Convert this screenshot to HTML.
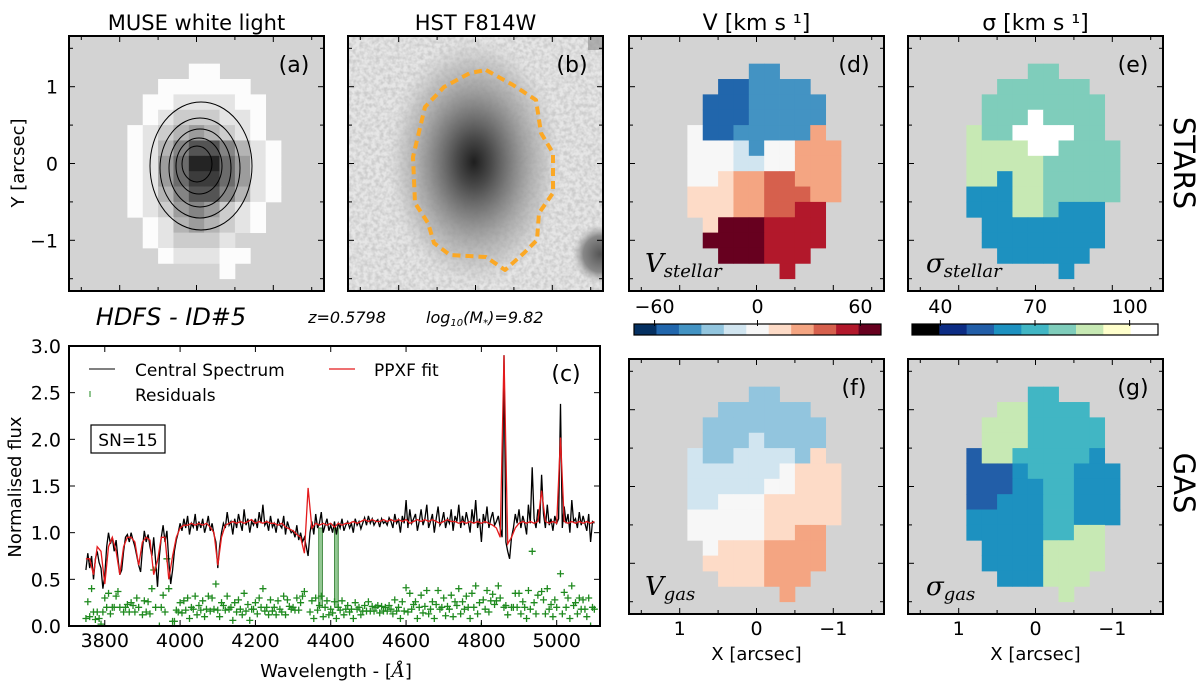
<!DOCTYPE html>
<html><head><meta charset="utf-8">
<style>
html,body{margin:0;padding:0;background:#fff;}
svg{display:block;font-family:"DejaVu Sans","Liberation Sans",sans-serif;}
</style></head>
<body>
<svg id="fig" width="1200" height="684" viewBox="0 0 1200 684" xmlns="http://www.w3.org/2000/svg">
<defs>
<filter id="noise" x="0" y="0" width="100%" height="100%">
<feTurbulence type="fractalNoise" baseFrequency="0.25" numOctaves="2" seed="3"/>
<feColorMatrix type="matrix" values="0 0 0 0 0.5  0 0 0 0 0.5  0 0 0 0 0.5  0 0 0 -2.4 1.6"/>
</filter>
<radialGradient id="blob" cx="0.5" cy="0.5" r="0.5">
<stop offset="0" stop-color="#1e1e1e"/>
<stop offset="0.2" stop-color="#4a4a4a"/>
<stop offset="0.5" stop-color="#888" stop-opacity="0.9"/>
<stop offset="0.8" stop-color="#b4b4b4" stop-opacity="0.6"/>
<stop offset="1" stop-color="#ccc" stop-opacity="0"/>
</radialGradient>
<radialGradient id="blob2" cx="0.5" cy="0.5" r="0.5">
<stop offset="0" stop-color="#555"/>
<stop offset="0.6" stop-color="#888"/>
<stop offset="1" stop-color="#bbb" stop-opacity="0"/>
</radialGradient>
<clipPath id="clipB"><rect x="348" y="36" width="255" height="255"/></clipPath>
<clipPath id="clipC"><rect x="69" y="346" width="531" height="280"/></clipPath>
</defs>
<g id="layer"></g>
</svg>
<script>
// ---------------- DATA ----------------
const museGrid = [
".....00....",
"...000000..",
"..00111100.",
"..01222110.",
".012343210.",
".0135775310",
".0146996410",
".0146886410",
".0135775310",
".012454210.",
"..01343210.",
"..012221...",
"...011100..",
".......0..."];
const vStarGrid = [
".....22....",
"...112222..",
"..11122222.",
"..11122222.",
".511222227.",
".5554255777",
".5554455777",
".5567788777",
".6667788877",
".666778899.",
"..6aaa9999.",
"..aaaa9999.",
"...aaa999..",
".......9..."];
const sStarGrid = [
".....55....",
"...555555..",
"..55555555.",
"..55585555.",
".655888855.",
".6666885555",
".6666655555",
".6636655555",
".3336655555",
".333665333.",
"..33333333.",
"..33333333.",
"...333333..",
".......3..."];
const vGasGrid = [
".....33....",
"...333333..",
"..33333333.",
"..33343333.",
".433444436.",
".4444445666",
".4444455666",
".4455566666",
".5555566666",
".555556677.",
"..56667777.",
"..66667777.",
"...666777..",
".......7..."];
const sGasGrid = [
".....44....",
"...664444..",
"..66644444.",
"..66644444.",
".266444443.",
".2223444333",
".2223344333",
".2233344333",
".3333344333",
".333334466.",
"..33336666.",
"..33336666.",
"...333666..",
".......6..."];
const vColors = ["#053061","#2166ac","#4393c3","#92c5de","#d1e5f0","#f7f7f7","#fddbc7","#f4a582","#d6604d","#b2182b","#67001f"];
const sColors = ["#000000","#0c2c84","#225ea8","#1d91c0","#41b6c4","#7fcdbb","#c7e9b4","#ffffcc","#ffffff"];
const vRange = [-72, 72];
const sRange = [31, 109];
const vTicks = [-60, 0, 60];
const sTicks = [40, 70, 100];
const mapTicks = [-1.5,-1,-0.5,0,0.5,1,1.5];
const mapLabels = [1,0,-1];

const lamStart = 3750;
const flux = [
0.60,0.78,0.62,0.75,0.50,0.72,0.80,0.68,0.62,0.40,
0.55,0.85,1.00,0.88,0.95,0.80,0.92,0.72,0.55,0.60,
0.80,0.95,0.98,0.90,1.00,0.92,0.85,0.75,0.65,0.58,
0.82,1.02,0.90,0.98,0.85,0.75,0.95,0.70,0.42,0.75,
0.95,1.08,0.90,1.02,0.70,0.45,0.60,0.80,0.92,1.00,
1.10,1.02,1.15,1.05,1.18,0.98,1.10,1.06,1.20,1.02,
1.12,1.05,1.15,1.00,1.08,1.18,1.02,1.10,0.98,0.90,
0.62,0.85,1.00,1.10,1.05,1.22,1.08,1.12,0.98,1.15,
1.05,1.20,1.10,1.02,1.25,1.08,1.15,1.00,1.12,1.08,
1.15,1.05,1.22,1.10,1.30,1.08,1.12,1.02,1.18,1.06,
1.10,1.00,1.15,1.08,1.05,1.18,0.98,1.12,1.05,1.00,
1.02,0.95,1.08,0.92,1.00,0.90,0.95,0.85,0.75,1.00,
1.12,0.98,1.20,1.05,1.10,1.22,1.00,1.08,1.15,1.02,
1.08,1.00,1.12,0.98,1.10,1.05,1.15,1.02,1.08,1.12,
1.05,1.10,1.00,1.15,1.08,1.12,1.04,1.10,1.16,1.08,
1.18,1.10,1.15,1.08,1.12,1.14,1.06,1.15,1.10,1.12,
1.08,1.16,1.12,1.05,1.20,1.10,1.14,1.00,1.18,1.10,
1.35,1.05,1.25,1.10,1.15,1.20,1.02,1.12,1.25,1.08,
1.15,1.30,1.05,1.12,1.20,1.00,1.15,1.28,1.08,1.12,
1.22,1.05,1.15,1.10,1.25,1.02,1.18,1.12,1.30,1.05,
1.18,1.08,1.22,1.12,1.00,1.25,1.10,1.35,1.05,1.15,
0.90,1.20,1.10,1.28,1.05,1.15,1.22,1.08,1.12,1.18,
1.05,0.95,2.90,0.90,0.80,0.72,0.95,1.05,1.20,1.10,
1.25,1.05,1.18,1.10,0.98,1.30,1.10,1.70,1.15,1.05,
1.25,1.10,1.62,1.20,1.05,1.30,1.08,1.15,1.02,1.18,
1.10,1.15,2.38,1.05,1.28,1.10,1.20,1.00,1.35,1.12,
1.15,1.05,1.22,1.08,1.18,1.10,1.02,1.20,0.90,1.12,
1.10];
const fit = [
0.72,0.72,0.55,0.85,0.80,0.45,0.85,0.95,0.80,0.55,
0.85,0.95,0.95,0.90,0.65,0.90,0.95,0.92,0.55,0.70,
0.95,0.95,0.50,0.75,0.95,1.05,1.08,1.08,1.10,1.08,
1.10,1.08,1.10,1.06,1.00,0.65,0.95,1.08,1.10,1.12,
1.10,1.12,1.10,1.12,1.14,1.10,1.12,1.10,1.12,1.10,
1.10,1.08,1.10,1.06,1.04,1.02,0.98,0.95,0.78,1.48,
1.05,1.10,1.08,1.10,1.08,1.10,1.06,1.10,1.08,1.10,
1.10,1.12,1.10,1.12,1.14,1.12,1.14,1.12,1.12,1.14,
1.12,1.14,1.12,1.14,1.12,1.14,1.10,1.12,1.14,1.12,
1.14,1.12,1.14,1.12,1.10,1.12,1.14,1.12,1.12,1.10,
1.12,1.10,1.12,1.10,1.12,1.10,1.12,1.10,1.08,1.05,
0.95,2.90,0.88,0.95,1.05,1.10,1.12,1.10,1.12,1.10,
1.12,1.45,1.12,1.10,1.12,1.10,2.02,1.12,1.10,1.12,
1.10,1.12,1.10,1.12,1.10,1.12];
const maskBands = [[4368,4378],[4410,4420]];
const specXTicks = [3800,4000,4200,4400,4600,4800,5000];
const specYTicks = [0.0,0.5,1.0,1.5,2.0,2.5,3.0];

// ---------------- HELPERS ----------------
const NS = "http://www.w3.org/2000/svg";
const root = document.getElementById("layer");
function el(tag, attrs, parent) {
  const e = document.createElementNS(NS, tag);
  for (const k in attrs) e.setAttribute(k, attrs[k]);
  (parent || root).appendChild(e);
  return e;
}
function txt(s, attrs, parent) { const t = el("text", attrs, parent); t.textContent = s; return t; }

const PS = 255, ARC = 76.8, CELL = ARC / 5;
const panels = {
  a: {x: 69, y: 36}, b: {x: 348, y: 36}, d: {x: 629, y: 36},
  e: {x: 908, y: 36}, f: {x: 629, y: 359}, g: {x: 908, y: 359}
};

function drawMap(grid, colorFn, p, name) {
  const g = el("g", {});
  
  
  const cx = p.x + PS / 2, cy = p.y + PS / 2;
  for (let r = 0; r < grid.length; r++) {
    const n = r - 6;
    for (let c = 0; c < grid[r].length; c++) {
      const ch = grid[r][c];
      if (ch === '.') continue;
      const m = c - 5;
      const rect = el("rect", {x: (cx + m * CELL - CELL / 2).toFixed(2), y: (cy + n * CELL - CELL / 2).toFixed(2),
        width: (CELL + 0.4).toFixed(2), height: (CELL + 0.4).toFixed(2), fill: colorFn(ch)}, g);
      
      
    }
  }
}
function frame(p, name) {
  const cx = p.x + PS / 2, cy = p.y + PS / 2;
  const g = el("g", {stroke: "#000", "stroke-width": 1});
  
  
  mapTicks.forEach(t => {
    const X = cx - t * ARC, Y = cy - t * ARC;
    const len = Number.isInteger(t) ? 6 : 4;
    el("line", {x1: X, y1: p.y + PS, x2: X, y2: p.y + PS - len}, g);
    el("line", {x1: X, y1: p.y, x2: X, y2: p.y + len}, g);
    el("line", {x1: p.x, y1: Y, x2: p.x + len, y2: Y}, g);
    el("line", {x1: p.x + PS, y1: Y, x2: p.x + PS - len, y2: Y}, g);
  });
  const fr = el("rect", {x: p.x, y: p.y, width: PS, height: PS, fill: "none", stroke: "#000", "stroke-width": 2});
  
  
}
function bg(p, name) {
  const r = el("rect", {x: p.x, y: p.y, width: PS, height: PS, fill: "#d3d3d3"});
  
  
}
function label(s, x, y, size, name, extra) {
  const a = Object.assign({x: x, y: y, "font-size": size, fill: "#000"}, extra || {});
  const t = txt(s, a);
  
  
  return t;
}

// ---------------- PANEL A ----------------
bg(panels.a, "muse");
drawMap(museGrid, ch => { const v = +ch; const gr = Math.round(252 - v * 24); return `rgb(${gr},${gr},${gr})`; }, panels.a, "muse-map");
[[201,166,51,64],[200,168,40,50],[200,168,31,39],[199,166,23,28],[197,164,15,18]].forEach(c => {
  const e = el("ellipse", {cx: c[0], cy: c[1], rx: c[2], ry: c[3], fill: "none", stroke: "#000", "stroke-width": 1});
  
  
});
frame(panels.a, "muse");
mapLabels.forEach(v => label(v === -1 ? "\u22121" : String(v), 58, 163.5 - v * ARC + 7, 19, "y-tick-label", {"text-anchor": "end"}));
label("Y [arcsec]", 0, 0, 18, "y-axis-title", {transform: "translate(24,163) rotate(-90)", "text-anchor": "middle"});
label("MUSE white light", 196.5, 30, 21, "title-muse", {"text-anchor": "middle"});
label("(a)", 294, 72, 22, "panel-label-a", {"text-anchor": "middle"});

// ---------------- PANEL B ----------------
{
  const gB = el("g", {"clip-path": "url(#clipB)"});
  
  
  el("rect", {x: 348, y: 36, width: 255, height: 255, fill: "#e6e6e6"}, gB);
  el("rect", {x: 348, y: 36, width: 255, height: 255, filter: "url(#noise)", opacity: 0.6}, gB);
  el("ellipse", {cx: 474, cy: 162, rx: 88, ry: 125, fill: "url(#blob)"}, gB);
  el("ellipse", {cx: 600, cy: 254, rx: 28, ry: 30, fill: "url(#blob2)"}, gB);
  el("rect", {x: 588, y: 36, width: 15, height: 14, fill: "#999", opacity: 0.7}, gB);
  const pts = [[486,70],[513,85],[536,100],[541,133],[553,153],[553,193],[539,213],[537,240],[524,253],[505,270],[486,257],[450,255],[434,243],[428,223],[415,203],[413,157],[425,107],[444,87],[470,73]];
  const c = el("polygon", {points: pts.map(p => p.join(",")).join(" "), fill: "none", stroke: "#fba825", "stroke-width": 4, "stroke-dasharray": "8 5", "stroke-linejoin": "round"});
  
  
}
frame(panels.b, "hst");
label("HST F814W", 475.5, 30, 21, "title-hst", {"text-anchor": "middle"});
label("(b)", 572, 72, 22, "panel-label-b", {"text-anchor": "middle"});

// ---------------- KINEMATIC MAPS ----------------
const hexIdx = ch => parseInt(ch, 16);
[["d", vStarGrid, vColors, "v-stellar-map"], ["e", sStarGrid, sColors, "sigma-stellar-map"],
 ["f", vGasGrid, vColors, "v-gas-map"], ["g", sGasGrid, sColors, "sigma-gas-map"]].forEach(s => {
  bg(panels[s[0]], s[3]);
  drawMap(s[1], ch => s[2][hexIdx(ch)], panels[s[0]], s[3]);
  frame(panels[s[0]], s[3]);
  label("(" + s[0] + ")", panels[s[0]].x + 225, panels[s[0]].y + 36, 22, "panel-label-" + s[0], {"text-anchor": "middle"});
});
label("V [km s  \u00B9]", 756.5, 30, 22, "title-velocity", {"text-anchor": "middle"});
label("\u03C3 [km s  \u00B9]", 1035.5, 30, 22, "title-dispersion", {"text-anchor": "middle"});

function mathLabel(main, sub, x, y, name) {
  const t = el("text", {x: x, y: y, "font-family": "'DejaVu Serif','Liberation Serif',serif", "font-style": "italic", "font-size": 26, fill: "#000"});
  
  
  const a = el("tspan", {}, t); a.textContent = main;
  const b = el("tspan", {"font-size": 18, dy: 5}, t); b.textContent = sub;
}
mathLabel("V", "stellar", 645, 272, "v-stellar-label");
mathLabel("\u03C3", "stellar", 926, 272, "sigma-stellar-label");
mathLabel("V", "gas", 645, 595, "v-gas-label");
mathLabel("\u03C3", "gas", 926, 595, "sigma-gas-label");

label("STARS", 0, 0, 29, "row-label-stars", {transform: "translate(1174,163) rotate(90)", "text-anchor": "middle"});
label("GAS", 0, 0, 29, "row-label-gas", {transform: "translate(1174,483) rotate(90)", "text-anchor": "middle"});

[["f", 756.5], ["g", 1035.5]].forEach(s => {
  mapLabels.forEach(v => label(v === -1 ? "\u22121" : String(v), s[1] - v * ARC, 635, 19, "x-tick-label", {"text-anchor": "middle"}));
  label("X [arcsec]", s[1], 660, 18, "x-axis-title-" + s[0], {"text-anchor": "middle"});
});

// ---------------- COLORBARS ----------------
function colorbar(colors, range, ticks, x0, x1, name) {
  const y0 = 324, h = 11;
  const sx = v => x0 + (v - range[0]) / (range[1] - range[0]) * (x1 - x0);
  const step = (range[1] - range[0]) / colors.length;
  colors.forEach((c, i) => {
    const a = sx(range[0] + i * step), b = sx(range[0] + (i + 1) * step);
    const r = el("rect", {x: a, y: y0, width: b - a + 0.3, height: h, fill: c});
    
    
  });
  const f = el("rect", {x: x0, y: y0, width: x1 - x0, height: h, fill: "none", stroke: "#000", "stroke-width": 1.2});
  
  
  ticks.forEach(t => {
    const X = sx(t);
    el("line", {x1: X, y1: y0 - 4, x2: X, y2: y0 + 2, stroke: "#000", "stroke-width": 1});
    label(t < 0 ? "\u2212" + Math.abs(t) : String(t), X, 313, 19, name + "-tick-label", {"text-anchor": "middle"});
  });
}
colorbar(vColors, vRange, vTicks, 634, 881, "velocity-colorbar");
colorbar(sColors, sRange, sTicks, 912, 1158, "dispersion-colorbar");

// ---------------- TEXT ROW ----------------
label("HDFS - ID#5", 171, 325, 24, "galaxy-id", {"text-anchor": "middle", "font-style": "italic"});
label("z=0.5798", 347, 323, 16, "redshift", {"text-anchor": "middle", "font-style": "italic"});
{
  const t = el("text", {x: 426, y: 323, "font-size": 16, "font-style": "italic", fill: "#000"});
  
  
  el("tspan", {}, t).textContent = "log";
  el("tspan", {"font-size": 10, dy: 3}, t).textContent = "10";
  el("tspan", {dy: -3}, t).textContent = "(M";
  el("tspan", {"font-size": 10, dy: 3}, t).textContent = "*";
  el("tspan", {dy: -3}, t).textContent = ")=9.82";
}

// ---------------- SPECTRUM ----------------
const SX0 = 69, SX1 = 600, SY0 = 346, SY1 = 626;
const lamMin = 3705, lamMax = 5115, fMax = 3.0;
const xs = l => SX0 + (l - lamMin) / (lamMax - lamMin) * (SX1 - SX0);
const ys = v => SY1 - v / fMax * (SY1 - SY0);
{
  const gC = el("g", {"clip-path": "url(#clipC)"});
  
  
  maskBands.forEach(b => {
    const r = el("rect", {x: xs(b[0]), y: ys(1.05), width: xs(b[1]) - xs(b[0]), height: ys(0.2) - ys(1.05), fill: "#3a9a3a", "fill-opacity": 0.55, stroke: "#2a7a2a", "stroke-width": 0.8}, gC);
    
    
  });
  const gR = el("g", {stroke: "#1f8a1f", "stroke-width": 1.3}, gC);
  
  
  flux.forEach((f, i) => {
    const fi = Math.min(fit.length - 1, Math.round(i / 2));
    const r = f - fit[fi] + 0.2;
    if (r < -0.1 || r > 3) return;
    const X = xs(lamStart + 5 * i), Y = ys(r);
    el("path", {d: `M${X - 3.5},${Y}h7M${X},${Y - 3.5}v7`}, gR);
  });
  const pf = el("polyline", {points: flux.map((f, i) => xs(lamStart + 5 * i).toFixed(1) + "," + ys(f).toFixed(1)).join(" "), fill: "none", stroke: "#000", "stroke-width": 1.3}, gC);
  
  
  const pr = el("polyline", {points: fit.map((f, i) => xs(lamStart + 10 * i).toFixed(1) + "," + ys(f).toFixed(1)).join(" "), fill: "none", stroke: "#e41a1c", "stroke-width": 1.3}, gC);
  
  
}
{
  const gT = el("g", {stroke: "#000", "stroke-width": 1});
  
  
  specXTicks.forEach(l => {
    const X = xs(l);
    el("line", {x1: X, y1: SY1, x2: X, y2: SY1 - 6}, gT);
    el("line", {x1: X, y1: SY0, x2: X, y2: SY0 + 6}, gT);
    label(String(l), X, 647, 19, "x-tick-label", {"text-anchor": "middle", stroke: "none"});
  });
  specYTicks.forEach(v => {
    const Y = ys(v);
    el("line", {x1: SX0, y1: Y, x2: SX0 + 6, y2: Y}, gT);
    el("line", {x1: SX1, y1: Y, x2: SX1 - 6, y2: Y}, gT);
    label(v.toFixed(1), 61, Y + 7, 19, "y-tick-label", {"text-anchor": "end", stroke: "none"});
  });
  const fr = el("rect", {x: SX0, y: SY0, width: SX1 - SX0, height: SY1 - SY0, fill: "none", stroke: "#000", "stroke-width": 2});
  
  
}
label("Normalised flux", 0, 0, 18, "y-axis-title-flux", {transform: "translate(21,487) rotate(-90)", "text-anchor": "middle"});
{
  const t = label("Wavelength - [", 336, 677, 18, "x-axis-title-wavelength", {"text-anchor": "middle"});
  const s = el("tspan", {"font-family": "'DejaVu Serif',serif", "font-style": "italic"}, t); s.textContent = "\u00C5";
  const s2 = el("tspan", {}, t); s2.textContent = "]";
}
// legend
{
  const gL = el("g", {});
  
  
  el("line", {x1: 89, y1: 369, x2: 115, y2: 369, stroke: "#000", "stroke-width": 1}, gL);
  label("Central Spectrum", 135, 376, 17, "legend-entry-central-spectrum");
  el("line", {x1: 329, y1: 369, x2: 355, y2: 369, stroke: "#e41a1c", "stroke-width": 1.3}, gL);
  label("PPXF fit", 374, 376, 17, "legend-entry-ppxf-fit");
  el("line", {x1: 90, y1: 391, x2: 90, y2: 397, stroke: "#1f8a1f", "stroke-width": 1}, gL);
  label("Residuals", 135, 401, 17, "legend-entry-residuals");
  const b = el("rect", {x: 91, y: 425, width: 74, height: 28, fill: "#fff", stroke: "#000", "stroke-width": 1.2});
  
  
  label("SN=15", 128, 446, 17, "sn-label", {"text-anchor": "middle"});
  label("(c)", 566, 381, 22, "panel-label-c", {"text-anchor": "middle"});
}
</script>
</body></html>
